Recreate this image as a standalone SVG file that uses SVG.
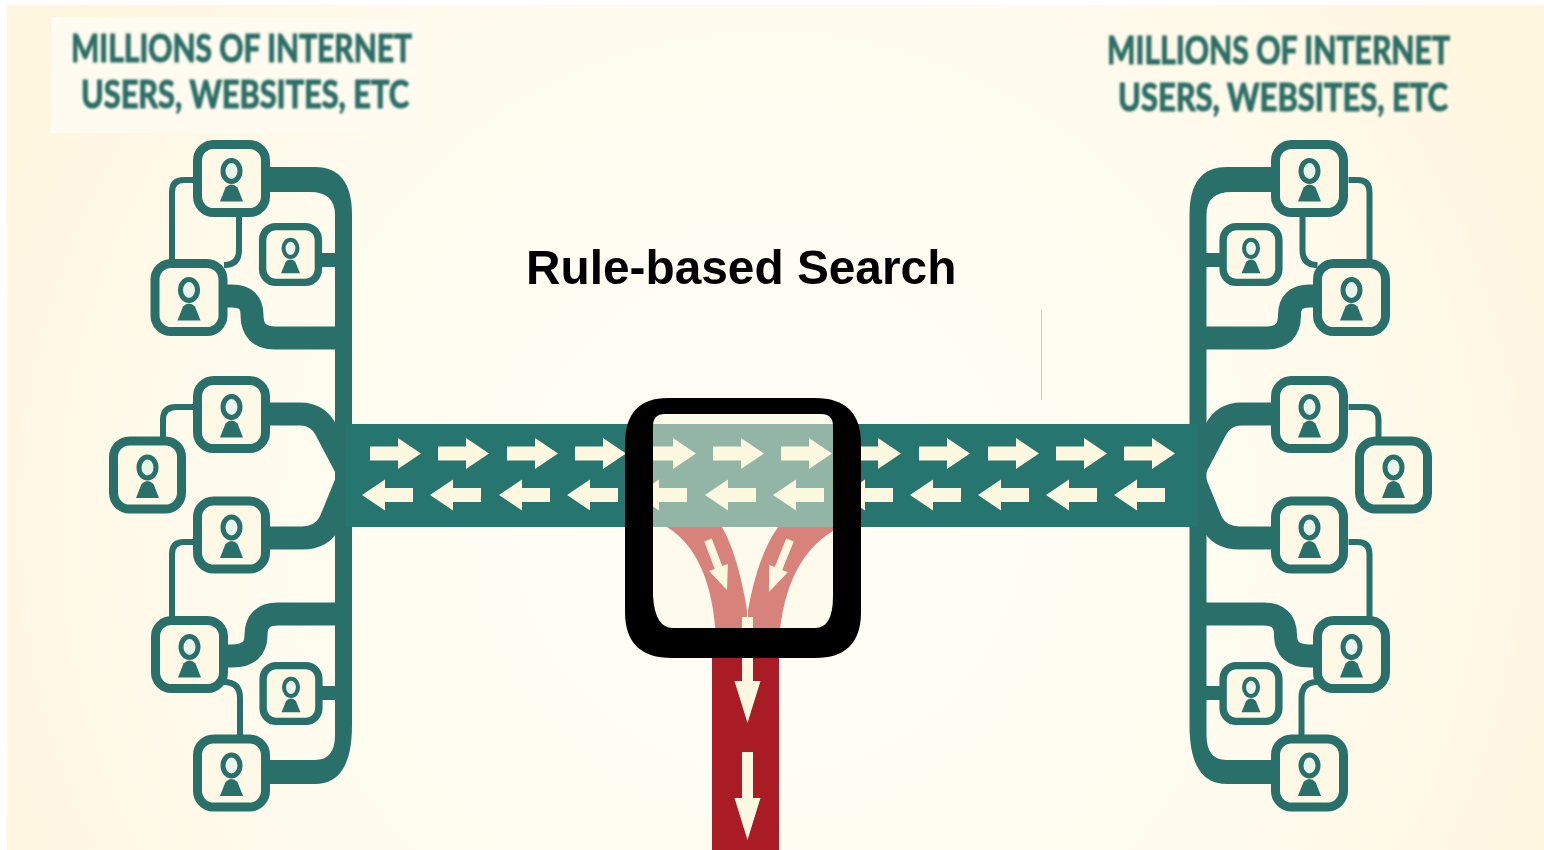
<svg xmlns="http://www.w3.org/2000/svg" xmlns:xlink="http://www.w3.org/1999/xlink" width="1544" height="850" viewBox="0 0 1544 850">
<style>
.t{fill:#29706a}
.band{fill:#25756e}
.thin{fill:none;stroke:#29706a;stroke-width:6}
.k{fill:none;stroke:#29706a;stroke-width:23}
.s{fill:none;stroke:#29706a;stroke-width:14}
.a{fill:#fdf8e0}
.h{font-family:"Lato","Liberation Sans",sans-serif;font-weight:700;font-size:28px;fill:#2b6e66;stroke:#2b6e66;stroke-width:.8}
.title{font-family:"Liberation Sans",Arial,sans-serif;font-weight:700;font-size:47.8px;fill:#000}
.box{fill:#fef8e6;stroke:#29706a;stroke-width:9}
</style>
<defs>
<radialGradient id="bg" gradientUnits="userSpaceOnUse" cx="770" cy="520" r="860">
<stop offset="0" stop-color="#fffef8"/><stop offset="0.55" stop-color="#fffcf0"/><stop offset="0.85" stop-color="#fff8e6"/><stop offset="1" stop-color="#fff6df"/>
</radialGradient>
<filter id="soft" x="-2%" y="-2%" width="104%" height="104%"><feGaussianBlur stdDeviation="0.7"/></filter>
<filter id="softer" x="-2%" y="-10%" width="104%" height="120%"><feGaussianBlur stdDeviation="0.9"/></filter>
<path id="ar" d="M0-7H28V-15.5L51 0 28 15.5V7H0Z"/>
<path id="al" d="M51-7H23V-15.5L0 0 23 15.5V7H51Z"/>
<path id="ad" d="M-5.5 0H5.5V46H13L0 88-13 46H-5.5Z"/>
<g id="user">
<rect class="box" x="-34" y="-34" width="68" height="68" rx="16"/>
<ellipse cx="0" cy="-7.5" rx="8.5" ry="10.5" fill="#e9f5ea" stroke="#29706a" stroke-width="5"/>
<path class="t" d="M-11.5 23L-6 9Q0 3 6 9L11.5 23Z"/>
</g>
<g id="conn">
<path class="t" d="M266 167H315Q352 167 352 215V725Q352 784 315 784H266V760H315Q335 760 335 735V215Q335 192 310 192H266Z"/>
<path class="s" d="M320 260H340M320 693H340"/>
<path class="k" d="M225 296H232Q252 296 252 315Q252 338 275 338H342"/>
<path class="k" d="M225 656H232Q256 656 256 635Q256 614 278 614H342"/>
<path class="k" d="M266 414H300Q318 414 326 430L348 472"/>
<path class="k" d="M266 538H302Q322 538 330 522L348 478"/>
<path class="thin" d="M193 180H184Q172 180 172 192V262"/>
<path class="thin" d="M239 215V250Q239 265 224 265"/>
<path class="thin" d="M193 407H176Q163 407 163 420V440"/>
<path class="thin" d="M193 542H184Q172 542 172 554V618"/>
<path class="thin" d="M224 682Q240 682 240 698V737"/>
</g>
</defs>
<rect width="1544" height="850" fill="#fff"/>
<rect x="7" y="5" width="1537" height="845" fill="url(#bg)"/>
<rect x="51" y="17" width="370" height="116" fill="#fffbf0"/>
<rect x="1041" y="310" width="1" height="90" fill="#d0d0c8"/>
<g filter="url(#softer)">
<text class="h" transform="translate(71 62) scale(1 1.39)" textLength="341" lengthAdjust="spacingAndGlyphs">MILLIONS OF INTERNET</text>
<text class="h" transform="translate(81 108) scale(1 1.39)" textLength="328" lengthAdjust="spacingAndGlyphs">USERS, WEBSITES, ETC</text>
<text class="h" transform="translate(1107 64) scale(1 1.39)" textLength="343" lengthAdjust="spacingAndGlyphs">MILLIONS OF INTERNET</text>
<text class="h" transform="translate(1118 111) scale(1 1.39)" textLength="330" lengthAdjust="spacingAndGlyphs">USERS, WEBSITES, ETC</text>
</g>
<g filter="url(#soft)">
<g id="connectors">
<use xlink:href="#conn" href="#conn"/>
<use xlink:href="#conn" href="#conn" transform="matrix(-1 0 0 1 1541.5 0)"/>
<rect class="band" x="345" y="424" width="852" height="103"/>
</g>
<g id="n1"><use href="#user" transform="translate(231.5 178.5)"/></g>
<g id="n2"><use href="#user" transform="translate(290.5 254.5) scale(.82)"/></g>
<g id="n3"><use href="#user" transform="translate(189 297.5)"/></g>
<g id="n4"><use href="#user" transform="translate(231.5 414.5)"/></g>
<g id="n5"><use href="#user" transform="translate(147.5 475)"/></g>
<g id="n6"><use href="#user" transform="translate(231.5 535)"/></g>
<g id="n7"><use href="#user" transform="translate(189.5 654.5)"/></g>
<g id="n8"><use href="#user" transform="translate(291 693.5) scale(.82)"/></g>
<g id="n9"><use href="#user" transform="translate(231.5 773)"/></g>
<g id="n10"><use href="#user" transform="translate(1309.5 178.5)"/></g>
<g id="n11"><use href="#user" transform="translate(1251 254.5) scale(.82)"/></g>
<g id="n12"><use href="#user" transform="translate(1351.5 297.5)"/></g>
<g id="n13"><use href="#user" transform="translate(1309.5 414.5)"/></g>
<g id="n14"><use href="#user" transform="translate(1393.5 475)"/></g>
<g id="n15"><use href="#user" transform="translate(1309.5 535)"/></g>
<g id="n16"><use href="#user" transform="translate(1351.5 654.5)"/></g>
<g id="n17"><use href="#user" transform="translate(1251 693.5) scale(.82)"/></g>
<g id="n18"><use href="#user" transform="translate(1309.5 773)"/></g>
<g id="stem">
<rect x="712" y="640" width="67" height="210" fill="#a91c25"/>
<use class="a" href="#ad" transform="translate(747.5 635)"/>
<use class="a" href="#ad" transform="translate(747.5 752)"/>
</g>
<g id="lens">
<rect x="640" y="405" width="205" height="240" fill="#fefbec"/>
<rect x="640" y="424" width="205" height="103" fill="#93b5a5"/>
<path d="M667 527Q712 555 716 640H747V610Q738 555 722 527Z" fill="#d8827c"/>
<path d="M833 531Q785 560 779 640H748V610Q758 555 778 527H833Z" fill="#d8827c"/>
<path class="a" d="M711.7 538.6L722.2 566.1 727.9 564 727 590 709.1 571 714.8 568.9 704.3 541.4Z"/>
<path class="a" d="M786.3 538.5L793.7 541.5 782.2 570.1 787.8 572.3 769 592 769.2 564.9 774.8 567.1Z"/>
<rect class="a" x="742" y="617" width="11" height="25"/>
</g>
<g id="arrows-right" class="a">
<use href="#ar" x="370" y="453.5"/><use href="#ar" x="438" y="453.5"/><use href="#ar" x="507" y="453.5"/><use href="#ar" x="575" y="453.5"/><use href="#ar" x="645" y="453.5"/><use href="#ar" x="713" y="453.5"/><use href="#ar" x="781" y="453.5"/><use href="#ar" x="850" y="453.5"/><use href="#ar" x="919" y="453.5"/><use href="#ar" x="988" y="453.5"/><use href="#ar" x="1056" y="453.5"/><use href="#ar" x="1124" y="453.5"/>
</g>
<g id="arrows-left" class="a">
<use href="#al" x="362" y="495"/><use href="#al" x="430" y="495"/><use href="#al" x="499" y="495"/><use href="#al" x="567" y="495"/><use href="#al" x="636" y="495"/><use href="#al" x="705" y="495"/><use href="#al" x="773" y="495"/><use href="#al" x="842" y="495"/><use href="#al" x="910" y="495"/><use href="#al" x="978" y="495"/><use href="#al" x="1046" y="495"/><use href="#al" x="1114" y="495"/>
</g>
<path id="frame" fill="#000" fill-rule="evenodd" d="M668 398H815Q861 398 861 444V612Q861 658 815 658H672Q625 658 625 612V444Q625 398 668 398ZM665 414Q653 414 653 426V596Q655 628 673 628H815Q833 628 833 596V426Q833 414 821 414Z"/>
</g>
<text id="title" class="title" x="526" y="284">Rule-based Search</text>
</svg>
